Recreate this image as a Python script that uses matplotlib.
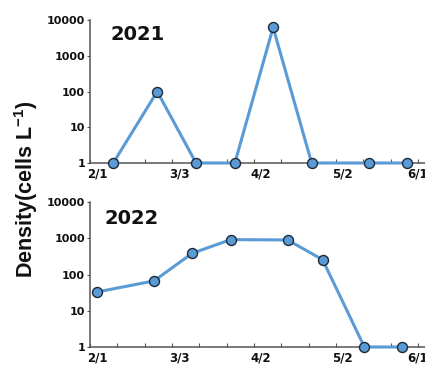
import matplotlib
matplotlib.use("Agg")
import matplotlib.pyplot as plt
import matplotlib.transforms as mtransforms
from matplotlib.ticker import FixedLocator, NullFormatter

plt.rcParams['mathtext.fontset'] = 'custom'
plt.rcParams['mathtext.rm'] = 'Liberation Sans:bold'
plt.rcParams['mathtext.default'] = 'rm'

# Sampling days counted from 1 February, densities in cells per litre
days_2021 = [8.5, 24.6, 38.8, 53.0, 67.0, 81.1, 102.2, 116.1]
dens_2021 = [1, 100, 1, 1, 6200, 1, 1, 1]

days_2022 = [2.4, 23.4, 37.4, 51.5, 72.3, 85.1, 100.4, 114.3]
dens_2022 = [33, 67, 390, 930, 910, 260, 1, 1]

date_ticks = [0, 30, 60, 90, 120]
date_labels = ['2/1', '3/3', '4/2', '5/2', '6/1']
minor_days = list(range(0, 130, 10))
y_ticks = [1, 10, 100, 1000, 10000]
y_labels = ['1', '10', '100', '1000', '10000']

line_color = '#5b9bd5'
edge_color = '#1c2a3a'
spine_color = '#555555'

W, H = 425, 366
fig = plt.figure(figsize=(W / 100, H / 100), dpi=100)

x_left = 90 / W
x_span = 125
px_per_day = 2.733
ax_w = x_span * px_per_day / W

# horizontal nudge (pixels) of each date label from its tick
label_nudge = [7, 7, 7, 6, 0]

panels = [
    ((H - 163) / H, 143 / H, days_2021, dens_2021, '2021', (110, 35)),
    ((H - 347) / H, 144.7 / H, days_2022, dens_2022, '2022', (105, 218)),
]

for bottom, height, days, dens, year, (tx, ty) in panels:
    ax = fig.add_axes([x_left, bottom, ax_w, height])
    ax.plot(days, dens, color=line_color, lw=2.2, marker='o', ms=7.2,
            mfc=line_color, mec=edge_color, mew=1.0, zorder=3, clip_on=False)
    ax.set_yscale('log')
    ax.set_ylim(1, 10000)
    ax.set_xlim(0, x_span)
    ax.yaxis.set_major_locator(FixedLocator(y_ticks))
    ax.set_yticklabels(y_labels)
    ax.yaxis.set_minor_locator(FixedLocator([]))
    ax.yaxis.set_minor_formatter(NullFormatter())
    ax.set_xticks(date_ticks)
    ax.set_xticklabels(date_labels)
    ax.xaxis.set_minor_locator(FixedLocator(minor_days))
    for s in ['top', 'right']:
        ax.spines[s].set_visible(False)
    for s in ['left', 'bottom']:
        ax.spines[s].set_color(spine_color)
        ax.spines[s].set_linewidth(1.1)
    ax.tick_params(axis='y', which='major', direction='out', length=2,
                   width=0.8, color=spine_color, pad=1.5, labelsize=8)
    ax.tick_params(axis='x', which='both', direction='in', length=3,
                   width=0.8, color=spine_color, pad=3, labelsize=8.5)
    for lab in ax.get_yticklabels() + ax.get_xticklabels():
        lab.set_fontweight('bold')
        lab.set_family('DejaVu Sans')
        lab.set_color('#111111')
    for lab, dx in zip(ax.get_xticklabels(), label_nudge):
        shift = mtransforms.ScaledTranslation(dx / 100, 0, fig.dpi_scale_trans)
        lab.set_transform(lab.get_transform() + shift)
    ax.patch.set_alpha(0)
    fig.text(tx / W, 1 - ty / H, year, fontsize=14, fontweight='bold',
             family='DejaVu Sans', ha='left', va='center', color='#111111')

fig.text(26 / W, 1 - 189 / H, r'Density(cells L$^{-1}$)', rotation=90,
         ha='center', va='center', fontsize=15.5, fontweight='bold',
         family='Liberation Sans', color='#111111')

fig.savefig('out.png', dpi=100)
